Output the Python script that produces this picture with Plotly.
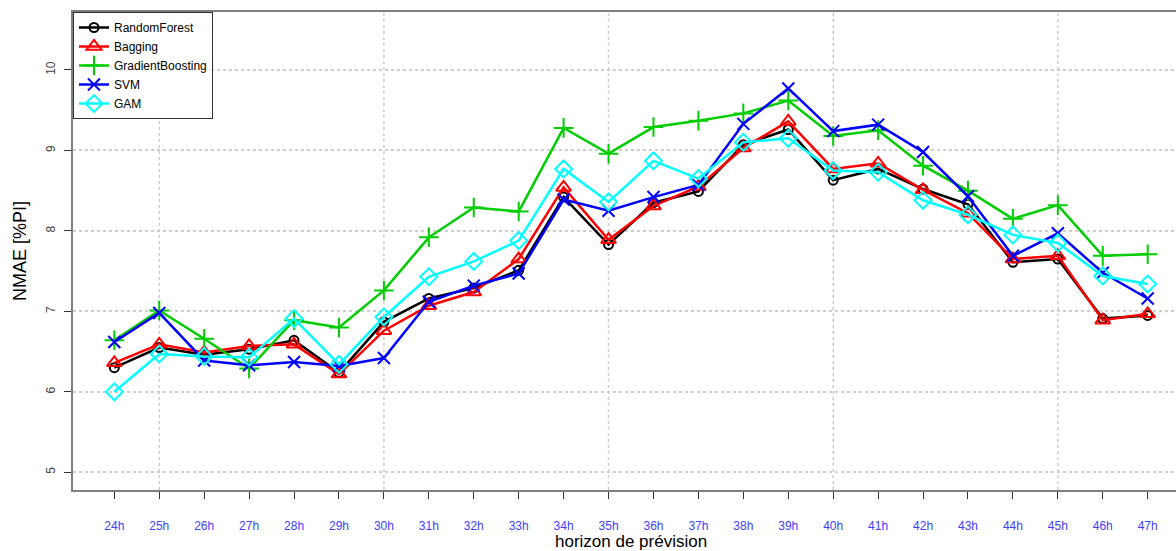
import plotly.graph_objects as go

# Forecast horizons (hours ahead)
horizons = ["24h", "25h", "26h", "27h", "28h", "29h", "30h", "31h", "32h", "33h",
            "34h", "35h", "36h", "37h", "38h", "39h", "40h", "41h", "42h", "43h",
            "44h", "45h", "46h", "47h"]

# NMAE [%PI] per model and horizon
random_forest = [6.30, 6.55, 6.46, 6.53, 6.64, 6.24, 6.87, 7.16, 7.29, 7.51,
                 8.42, 7.83, 8.35, 8.49, 9.07, 9.26, 8.63, 8.77, 8.52, 8.33,
                 7.61, 7.65, 6.91, 6.95]
bagging = [6.36, 6.59, 6.49, 6.57, 6.59, 6.22, 6.76, 7.07, 7.24, 7.65,
           8.54, 7.89, 8.31, 8.55, 9.03, 9.36, 8.77, 8.84, 8.51, 8.22,
           7.65, 7.69, 6.89, 6.97]
gradient_boosting = [6.64, 7.01, 6.66, 6.29, 6.89, 6.80, 7.26, 7.92, 8.29, 8.24,
                     9.28, 8.96, 9.29, 9.37, 9.46, 9.62, 9.18, 9.25, 8.81, 8.50,
                     8.15, 8.32, 7.69, 7.71]
svm = [6.62, 6.98, 6.39, 6.33, 6.37, 6.32, 6.42, 7.12, 7.32, 7.47,
       8.39, 8.25, 8.42, 8.57, 9.33, 9.77, 9.24, 9.32, 8.98, 8.43,
       7.69, 7.97, 7.48, 7.16]
gam = [6.00, 6.47, 6.44, 6.43, 6.91, 6.34, 6.93, 7.43, 7.62, 7.88,
       8.77, 8.36, 8.87, 8.65, 9.10, 9.15, 8.75, 8.73, 8.38, 8.20,
       7.95, 7.85, 7.44, 7.34]

# Vertical reference grid positions (horizon index)
vgrid_positions = [2, 7, 12, 17, 22]
y_ticks = [5, 6, 7, 8, 9, 10]

models = [
    ("RandomForest", random_forest, "#000000", "circle-open", 9),
    ("Bagging", bagging, "#ff0000", "triangle-up-open", 13),
    ("GradientBoosting", gradient_boosting, "#00cd00", "cross-thin-open", 14),
    ("SVM", svm, "#0000ff", "x-thin-open", 12),
    ("GAM", gam, "#00ffff", "diamond-open", 13),
]

x_idx = list(range(1, len(horizons) + 1))

fig = go.Figure()
for name, values, color, symbol, size in models:
    fig.add_trace(go.Scatter(
        x=x_idx, y=values, name=name, mode="lines+markers",
        line=dict(color=color, width=2.5),
        marker=dict(symbol=symbol, size=size, color=color,
                    line=dict(color=color, width=2)),
    ))

axis_gray = "#7f7f7f"
grid_gray = "#cfcfcf"

grid_shapes = [
    dict(type="line", xref="x", yref="paper", x0=v, x1=v, y0=0, y1=1,
         layer="below", line=dict(color=grid_gray, width=1.5, dash="dot"))
    for v in vgrid_positions
]

fig.update_layout(
    width=1176, height=551,
    margin=dict(l=73, r=0, t=12, b=61),
    paper_bgcolor="white", plot_bgcolor="white",
    font=dict(family="Liberation Sans, Arial, sans-serif", color="#000000"),
    showlegend=True,
    legend=dict(
        x=0, y=1, xanchor="left", yanchor="top",
        bgcolor="white", bordercolor="#333333", borderwidth=1,
        font=dict(size=12, color="#000000"),
        itemwidth=30, tracegroupgap=0,
    ),
    shapes=grid_shapes,
    xaxis=dict(
        range=[0.08, 24.63],
        tickmode="array", tickvals=x_idx, ticktext=horizons,
        ticks="outside", ticklen=7, tickcolor="#333333", tickwidth=1,
        tickfont=dict(size=12, color="#4040ff"),
        ticklabelstandoff=17,
        showline=True, linecolor=axis_gray, linewidth=2, mirror=True,
        showgrid=False, zeroline=False,
    ),
    yaxis=dict(
        range=[4.78, 10.72],
        tickmode="array", tickvals=y_ticks,
        ticks="outside", ticklen=7, tickcolor="#333333", tickwidth=1,
        tickangle=-90,
        tickfont=dict(size=12, color="#444444"),
        ticklabelstandoff=4,
        showline=True, linecolor=axis_gray, linewidth=2, mirror=False,
        showgrid=True, gridcolor=grid_gray, griddash="dot", gridwidth=1.5,
        zeroline=False,
    ),
    annotations=[
        dict(text="horizon de prévision", xref="paper", yref="paper",
             x=0.506, y=0, yshift=-51, xanchor="center", yanchor="middle",
             showarrow=False, font=dict(size=17, color="#000000")),
        dict(text="NMAE [%PI]", xref="paper", yref="paper",
             x=0, y=0.5, xshift=-53, xanchor="center", yanchor="middle",
             textangle=-90, showarrow=False,
             font=dict(size=18, color="#000000")),
    ],
)

fig.write_html("out.html")
